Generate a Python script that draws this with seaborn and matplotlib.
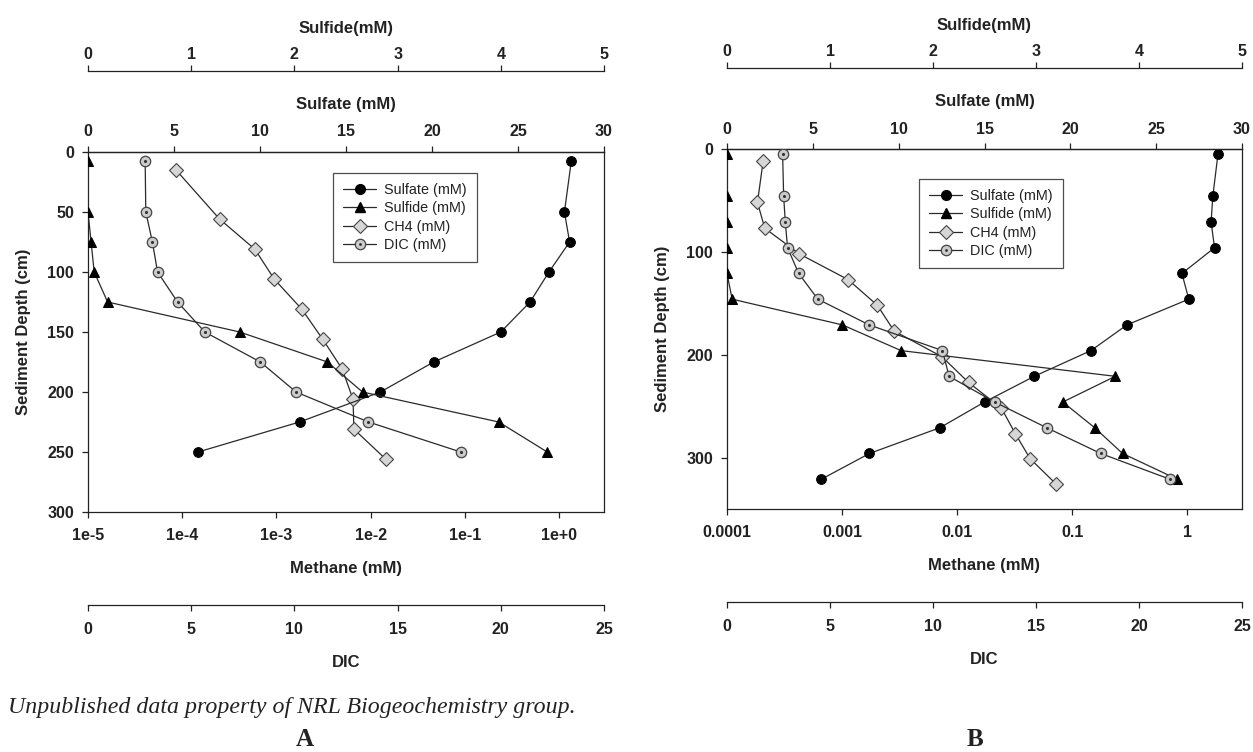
import matplotlib
matplotlib.use("Agg")
import matplotlib.pyplot as plt
from matplotlib.lines import Line2D
from matplotlib.ticker import FixedLocator, NullLocator
import seaborn as sns

# ---------------- data ----------------
# Core A
depth_a = [7.5, 50, 75, 100, 125, 150, 175, 200, 225, 250]
sulfate_a = [28.1, 27.7, 28.0, 26.8, 25.7, 24.0, 20.1, 17.0, 12.3, 6.4]
sulfide_a = [0.0, 0.0, 0.03, 0.06, 0.19, 1.47, 2.32, 2.66, 3.98, 4.45]
dic_a = [2.77, 2.80, 3.12, 3.37, 4.34, 5.66, 8.35, 10.08, 13.59, 18.06]
ch4_depth_a = [15, 56, 81, 106, 131, 156, 181, 206, 231, 256]
ch4_a = [8.6e-5, 2.5e-4, 5.9e-4, 9.5e-4, 1.86e-3, 3.1e-3, 5.0e-3, 6.5e-3, 6.65e-3, 1.45e-2]

# Core B
depth_b = [5, 46, 71, 96, 121, 146, 171, 196, 221, 246, 271, 296, 321]
sulfate_b = [28.6, 28.3, 28.2, 28.4, 26.5, 26.9, 23.3, 21.2, 17.9, 15.0, 12.4, 8.3, 5.5]
sulfide_b = [0.0, 0.0, 0.0, 0.0, 0.0, 0.05, 1.12, 1.69, 3.77, 3.26, 3.57, 3.84, 4.37]
dic_b = [2.70, 2.75, 2.83, 2.94, 3.48, 4.41, 6.90, 10.46, 10.78, 12.99, 15.52, 18.14, 21.49]
ch4_depth_b = [12, 52, 77, 102, 127, 152, 177, 202, 227, 252, 277, 301, 326]
ch4_b = [2.06e-4, 1.84e-4, 2.13e-4, 4.25e-4, 1.13e-3, 2.03e-3, 2.84e-3, 7.4e-3,
         1.26e-2, 2.43e-2, 3.22e-2, 4.31e-2, 7.3e-2]

# axis ticks
sulfate_ticks = [0, 5, 10, 15, 20, 25, 30]
sulfide_ticks = [0, 1, 2, 3, 4, 5]
dic_ticks = [0, 5, 10, 15, 20, 25]
meth_ticks_a = [1e-5, 1e-4, 1e-3, 1e-2, 1e-1, 1e0]
meth_labels_a = ["1e-5", "1e-4", "1e-3", "1e-2", "1e-1", "1e+0"]
meth_ticks_b = [1e-4, 1e-3, 1e-2, 1e-1, 1e0]
meth_labels_b = ["0.0001", "0.001", "0.01", "0.1", "1"]
depth_ticks_a = [0, 50, 100, 150, 200, 250, 300]
depth_ticks_b = [0, 100, 200, 300]

legend_labels = ["Sulfate (mM)", "Sulfide (mM)", "CH4 (mM)", "DIC (mM)"]
caption = "Unpublished data property of NRL Biogeochemistry group."

# ---------------- style ----------------
sns.set_theme(style="white")
plt.rcParams["font.family"] = ["Liberation Sans", "DejaVu Sans"]
plt.rcParams["font.weight"] = "bold"
plt.rcParams["axes.labelweight"] = "bold"

INK = "#222222"
LINE = "#2a2a2a"
SPINE_W = 0.9
TICK_FS = 11.5
LABEL_FS = 12

fig = plt.figure(figsize=(12.53, 7.52), dpi=100)
fig.patch.set_facecolor("white")

line_kw = dict(color=LINE, linewidth=0.9, estimator=None, sort=False, orient="y")


def style_ticks(axis_ax, which, pad):
    axis_ax.tick_params(axis=which, direction="out", length=4, width=SPINE_W,
                        colors=INK, labelsize=TICK_FS, pad=pad)


def draw_panel(rect, depth, sulfate, sulfide, dic, ch4_depth, ch4,
               meth_lo, meth_ticks, meth_labels, depth_max, depth_ticks):
    ax = fig.add_axes(rect)
    ax.set_xscale("log")

    # methane on the log bottom axis
    sns.lineplot(x=ch4, y=ch4_depth, ax=ax, marker="D", markersize=7,
                 markerfacecolor="#d6d6d6", markeredgecolor="#444444",
                 markeredgewidth=0.8, **line_kw)
    ax.set_xlim(meth_lo, 3)
    ax.set_ylim(depth_max, 0)
    ax.xaxis.set_major_locator(FixedLocator(meth_ticks))
    ax.xaxis.set_minor_locator(NullLocator())
    ax.set_xticklabels(meth_labels)
    ax.set_yticks(depth_ticks)
    ax.set_yticklabels([str(t) for t in depth_ticks])
    ax.set_xlabel("Methane (mM)", fontsize=LABEL_FS, color=INK, labelpad=13)
    ax.set_ylabel("Sediment Depth (cm)", fontsize=LABEL_FS, color=INK, labelpad=12)
    style_ticks(ax, "x", 7.5)
    style_ticks(ax, "y", 6)
    ax.xaxis.set_ticks_position("bottom")
    ax.yaxis.set_ticks_position("left")
    for s in ax.spines.values():
        s.set_visible(True)
        s.set_color(INK)
        s.set_linewidth(SPINE_W)

    # sulfate on the top axis
    ax_s = ax.twiny()
    sns.lineplot(x=sulfate, y=depth, ax=ax_s, marker="o", markersize=7,
                 markerfacecolor="black", markeredgecolor="black", **line_kw)
    ax_s.set_xlim(0, 30)
    ax_s.set_xticks(sulfate_ticks)
    ax_s.set_xticklabels([str(t) for t in sulfate_ticks])
    ax_s.set_xlabel("Sulfate (mM)", fontsize=LABEL_FS, color=INK, labelpad=11)
    style_ticks(ax_s, "x", 5)
    for k, s in ax_s.spines.items():
        s.set_visible(k == "top")
        s.set_color(INK)
        s.set_linewidth(SPINE_W)

    # sulfide on a detached top axis
    ax_sd = ax.twiny()
    sns.lineplot(x=sulfide, y=depth, ax=ax_sd, marker="^", markersize=7.5,
                 markerfacecolor="black", markeredgecolor="black", **line_kw)
    ax_sd.set_xlim(0, 5)
    ax_sd.set_xticks(sulfide_ticks)
    ax_sd.set_xticklabels([str(t) for t in sulfide_ticks])
    ax_sd.set_xlabel("Sulfide(mM)", fontsize=LABEL_FS, color=INK, labelpad=10)
    style_ticks(ax_sd, "x", 3)
    for k, s in ax_sd.spines.items():
        s.set_visible(k == "top")
        s.set_color(INK)
        s.set_linewidth(SPINE_W)
    ax_sd.spines["top"].set_position(("outward", 58))

    # DIC on a detached bottom axis
    ax_d = ax.twiny()
    sns.lineplot(x=dic, y=depth, ax=ax_d, marker="o", markersize=7.5,
                 markerfacecolor="#cbcbcb", markeredgecolor="#444444",
                 markeredgewidth=0.9, **line_kw)
    sns.scatterplot(x=dic, y=depth, ax=ax_d, marker="o", s=5, color="#333333",
                    linewidth=0, legend=False, zorder=5)
    ax_d.set_xlim(0, 25)
    ax_d.xaxis.set_ticks_position("bottom")
    ax_d.xaxis.set_label_position("bottom")
    ax_d.set_xticks(dic_ticks)
    ax_d.set_xticklabels([str(t) for t in dic_ticks])
    ax_d.set_xlabel("DIC", fontsize=LABEL_FS, color=INK, labelpad=13)
    style_ticks(ax_d, "x", 8)
    for k, s in ax_d.spines.items():
        s.set_visible(k == "bottom")
        s.set_color(INK)
        s.set_linewidth(SPINE_W)
    ax_d.spines["bottom"].set_position(("outward", 67))

    for a in (ax, ax_s, ax_sd, ax_d):
        a.set_ylim(depth_max, 0)
        a.grid(False)
    return ax


def legend_handles():
    sulf = Line2D([], [], color=LINE, lw=0.9, marker="o", markersize=7,
                  markerfacecolor="black", markeredgecolor="black")
    sulfd = Line2D([], [], color=LINE, lw=0.9, marker="^", markersize=7.5,
                   markerfacecolor="black", markeredgecolor="black")
    meth = Line2D([], [], color=LINE, lw=0.9, marker="D", markersize=7,
                  markerfacecolor="#d6d6d6", markeredgecolor="#444444",
                  markeredgewidth=0.8)
    dic_ring = Line2D([], [], color=LINE, lw=0.9, marker="o", markersize=7.5,
                      markerfacecolor="#cbcbcb", markeredgecolor="#444444",
                      markeredgewidth=0.9)
    dic_dot = Line2D([], [], lw=0, marker="o", markersize=2,
                     markerfacecolor="#333333", markeredgewidth=0)
    return [sulf, sulfd, meth, (dic_ring, dic_dot)]


def add_legend(anchor):
    leg = fig.legend(legend_handles(), legend_labels, loc="upper left",
                     bbox_to_anchor=anchor, bbox_transform=fig.transFigure,
                     prop={"family": "Liberation Sans", "size": 10.4, "weight": "normal"},
                     frameon=True, fancybox=False, shadow=False,
                     handlelength=2.3, handletextpad=0.55, labelspacing=0.3,
                     borderpad=0.7, borderaxespad=0)
    leg.get_frame().set_edgecolor(INK)
    leg.get_frame().set_linewidth(0.9)
    for t in leg.get_texts():
        t.set_color(INK)


W, H = 1253, 752
rect_a = [88 / W, 1 - 512 / H, (604 - 88) / W, (512 - 152) / H]
rect_b = [727 / W, 1 - 509 / H, (1242 - 727) / W, (509 - 149) / H]

draw_panel(rect_a, depth_a, sulfate_a, sulfide_a, dic_a, ch4_depth_a, ch4_a,
           1e-5, meth_ticks_a, meth_labels_a, 300, depth_ticks_a)
draw_panel(rect_b, depth_b, sulfate_b, sulfide_b, dic_b, ch4_depth_b, ch4_b,
           1e-4, meth_ticks_b, meth_labels_b, 350, depth_ticks_b)

add_legend((333 / W, 1 - 173 / H))
add_legend((919 / W, 1 - 179 / H))

fig.text(8 / W, 1 - 707 / H, caption, ha="left", va="center",
         family="Liberation Serif", style="italic", weight="normal",
         fontsize=17.2, color=INK)
fig.text(305 / W, 1 - 740 / H, "A", ha="center", va="center",
         family="Liberation Serif", weight="bold", fontsize=18, color=INK)
fig.text(975 / W, 1 - 740 / H, "B", ha="center", va="center",
         family="Liberation Serif", weight="bold", fontsize=18, color=INK)

fig.savefig("out.png", dpi=100, facecolor="white")
